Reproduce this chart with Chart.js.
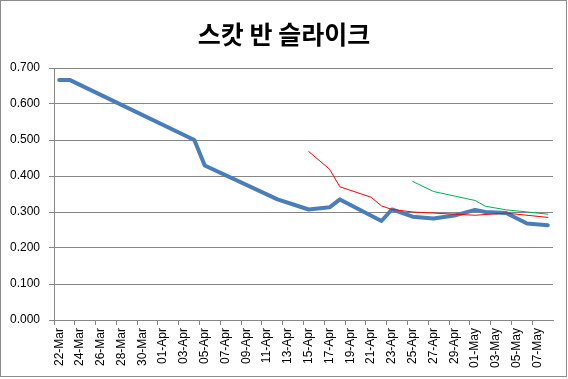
<!DOCTYPE html>
<html>
<head>
<meta charset="utf-8">
<script src="https://cdn.jsdelivr.net/npm/chart.js@4/dist/chart.umd.min.js"></script>
<style>
  html, body { margin: 0; padding: 0; background: #fff; }
  #wrap { width: 568px; height: 379px; position: relative; }
</style>
</head>
<body>
<div id="wrap"><canvas id="c" width="568" height="379"></canvas></div>
<script>
const titleText = '스캇 반 슬라이크';
const categories = [
  '22-Mar','23-Mar','24-Mar','25-Mar','26-Mar','27-Mar','28-Mar','29-Mar','30-Mar','31-Mar',
  '01-Apr','02-Apr','03-Apr','04-Apr','05-Apr','06-Apr','07-Apr','08-Apr','09-Apr','10-Apr',
  '11-Apr','12-Apr','13-Apr','14-Apr','15-Apr','16-Apr','17-Apr','18-Apr','19-Apr','20-Apr',
  '21-Apr','22-Apr','23-Apr','24-Apr','25-Apr','26-Apr','27-Apr','28-Apr','29-Apr','30-Apr',
  '01-May','02-May','03-May','04-May','05-May','06-May','07-May','08-May'
];
const _ = null;
const seriesBlue = [
  0.667,0.667,_,_,_,_,_,_,_,_,
  _,_,_,0.500,0.429,_,_,_,_,_,
  _,0.335,_,_,0.307,_,0.313,0.335,_,_,
  _,0.275,0.307,_,0.287,_,0.282,_,0.290,_,
  0.306,0.300,_,0.297,_,0.268,_,0.263
];
const seriesRed = [
  _,_,_,_,_,_,_,_,_,_,
  _,_,_,_,_,_,_,_,_,_,
  _,_,_,_,0.468,_,0.419,0.370,_,_,
  0.341,0.317,0.307,_,0.300,_,0.297,_,0.294,_,
  0.291,_,_,0.297,_,_,_,0.285
];
const seriesGreen = [
  _,_,_,_,_,_,_,_,_,_,
  _,_,_,_,_,_,_,_,_,_,
  _,_,_,_,_,_,_,_,_,_,
  _,_,_,_,0.385,_,0.357,_,_,_,
  0.332,0.316,_,0.306,_,_,_,0.294
];
const yTicks = [0, 0.1, 0.2, 0.3, 0.4, 0.5, 0.6, 0.7];

const gridGray = '#878787';

const frameAndTitle = {
  id: 'frameAndTitle',
  afterDraw(chart) {
    const ctx = chart.ctx;
    ctx.save();
    ctx.strokeStyle = '#8c8c8c';
    ctx.lineWidth = 1;
    ctx.strokeRect(0.5, 0.5, 566, 376);
    ctx.fillStyle = '#000';
    ctx.font = 'bold 25px "Noto Sans CJK KR", sans-serif';
    ctx.textAlign = 'center';
    ctx.textBaseline = 'middle';
    ctx.fillText(titleText, 284, 34);
    ctx.restore();
  }
};

new Chart(document.getElementById('c'), {
  type: 'line',
  data: {
    labels: categories,
    datasets: [
      { label: 'blue', data: seriesBlue, borderColor: '#4a7ebb', borderWidth: 4, order: 3 },
      { label: 'red', data: seriesRed, borderColor: '#ff0000', borderWidth: 1, order: 2 },
      { label: 'green', data: seriesGreen, borderColor: '#00b050', borderWidth: 1, order: 1 }
    ]
  },
  options: {
    responsive: false,
    animation: false,
    devicePixelRatio: 1,
    spanGaps: true,
    elements: {
      line: { tension: 0, borderJoinStyle: 'round', borderCapStyle: 'round', fill: false },
      point: { radius: 0, hoverRadius: 0 }
    },
    layout: { padding: { top: 68, left: 0, right: 15, bottom: 0 } },
    plugins: { legend: { display: false }, title: { display: false }, tooltip: { enabled: false } },
    scales: {
      x: {
        type: 'category',
        offset: true,
        afterFit(scale) { scale.height = 59; },
        grid: {
          offset: true,
          drawOnChartArea: false,
          drawTicks: true,
          tickLength: 5,
          color: (ctx) => (ctx.index % 2 === 0 ? gridGray : 'rgba(0,0,0,0)')
        },
        border: { display: true, color: gridGray },
        ticks: {
          autoSkip: false,
          maxRotation: 90,
          minRotation: 90,
          padding: 3,
          color: '#000',
          font: { family: '"Liberation Sans", Arial, sans-serif', size: 12 },
          callback: function(value, index) { return index % 2 === 0 ? categories[index] : ''; }
        }
      },
      y: {
        min: 0,
        max: 0.7,
        afterFit(scale) { scale.width = 54; },
        afterBuildTicks(scale) { scale.ticks = yTicks.map(v => ({ value: v })); },
        grid: { color: gridGray, tickLength: 5, drawTicks: true },
        border: { display: true, color: gridGray },
        ticks: {
          padding: 9,
          color: '#000',
          font: { family: '"Liberation Sans", Arial, sans-serif', size: 12 },
          callback: (v) => Number(v).toFixed(3)
        }
      }
    }
  },
  plugins: [frameAndTitle]
});
</script>
</body>
</html>
